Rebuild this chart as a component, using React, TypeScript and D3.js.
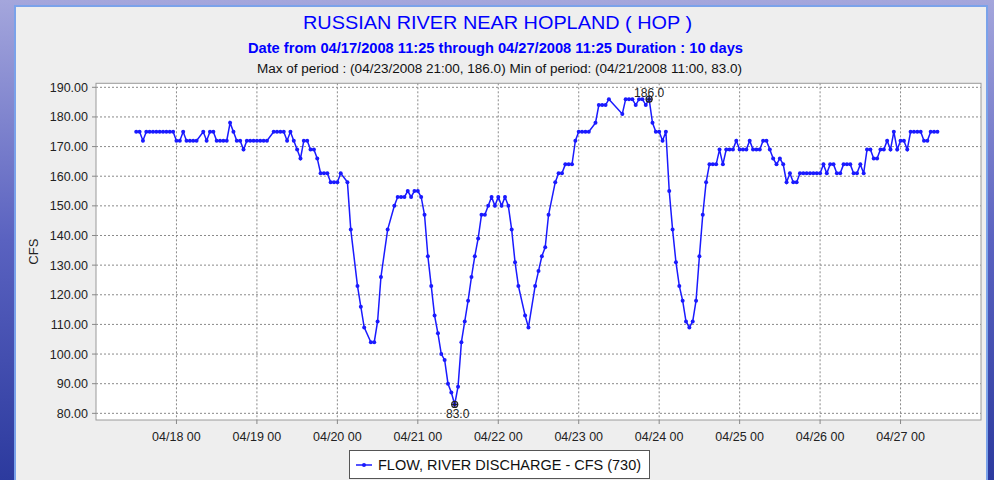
import React from 'react';
import * as d3 from 'd3';

// hourly flow readings (CFS) from 04/17/2008 12:00, null = no reading that hour
const flowCfs: (number | null)[] = [
  175, 175, 172, 175, 175, 175, 175, 175, 175, 175, 175, 175, // 04/17 12-23
  172, 172, 175, 172, 172, 172, 172, null, 175, 172, 175, 175, // 04/18 00-11
  172, 172, 172, 172, 178, 175, 172, 172, 169, 172, 172, 172, // 04/18 12-23
  172, 172, 172, 172, null, 175, 175, 175, 175, 172, 175, 172, // 04/19 00-11
  169, 166, 172, 172, 169, 169, 166, 161, 161, 161, 158, 158, // 04/19 12-23
  158, 161, null, 158, 142, null, 123, 116, 109, null, 104, 104, // 04/20 00-11
  111, 126, null, 142, null, 150, 153, 153, 153, 155, 153, 155, // 04/20 12-23
  155, 153, 147, 133, 123, 113, 107, 100, 98, 90, 87, 83, // 04/21 00-11
  89, 104, 111, 118, 126, 133, 139, 147, 147, 150, 153, 150, // 04/21 12-23
  153, 150, 153, 150, 142, 131, 123, null, 113, 109, null, 123, // 04/22 00-11
  128, 133, 136, 147, null, 158, 161, 161, 164, 164, 164, 172, // 04/22 12-23
  175, 175, 175, 175, null, 178, 184, 184, 184, 186, null, null, // 04/23 00-11
  null, 181, 186, 186, 186, 184, 186, 186, 184, 186, 178, 175, // 04/23 12-23
  175, 172, 175, 155, 142, 131, 123, 118, 111, 109, 111, 118, // 04/24 00-11
  133, 147, 158, 164, 164, 164, 169, 164, 169, 169, 169, 172, // 04/24 12-23
  169, 169, 169, 172, 169, 169, 169, 172, 172, 169, 166, 164, // 04/25 00-11
  166, 164, 158, 161, 158, 158, 161, 161, 161, 161, 161, 161, // 04/25 12-23
  161, 164, 161, 164, 164, 161, 161, 164, 164, 164, 161, 161, // 04/26 00-11
  164, 161, 169, 169, 166, 166, 169, 169, 172, 169, 175, 169, // 04/26 12-23
  172, 172, 169, 175, 175, 175, 175, 172, 172, 175, 175, 175, // 04/27 00-11
];

const yTickValues = [80, 90, 100, 110, 120, 130, 140, 150, 160, 170, 180, 190];
const xTickLabels = ['04/18 00', '04/19 00', '04/20 00', '04/21 00', '04/22 00',
  '04/23 00', '04/24 00', '04/25 00', '04/26 00', '04/27 00'];

const title = 'RUSSIAN RIVER NEAR HOPLAND ( HOP )';
const subtitle = 'Date from 04/17/2008 11:25 through 04/27/2008 11:25 Duration : 10 days';
const extremes = 'Max of period : (04/23/2008 21:00, 186.0)  Min of period: (04/21/2008 11:00,  83.0)';
const legendLabel = 'FLOW, RIVER DISCHARGE - CFS (730)';

const W = 994;
const H = 480;
const plot = { left: 96, right: 981, top: 83.3, bottom: 420 };
const narrow = "'Liberation Sans Narrow', 'Liberation Sans', Arial, sans-serif";
const sans = "'Liberation Sans', Arial, sans-serif";

type Pt = { t: Date; v: number };

export default function App() {
  const start = Date.UTC(2008, 3, 17, 12);
  const points: Pt[] = flowCfs
    .map((v, i) => ({ t: new Date(start + i * 3600e3), v }))
    .filter((d): d is Pt => d.v != null);

  const x = d3.scaleUtc()
    .domain([new Date(Date.UTC(2008, 3, 17)), new Date(Date.UTC(2008, 3, 28))])
    .range([plot.left, plot.right]);
  const y = d3.scaleLinear().domain([77.75, 191.35]).range([plot.bottom, plot.top]);

  const xTicks = xTickLabels.map((_, i) => new Date(Date.UTC(2008, 3, 18 + i)));
  const line = d3.line<Pt>().x(d => x(d.t)).y(d => y(d.v));

  // the report flags the last hour the peak was reached
  const maxV = d3.max(points, d => d.v)!;
  const maxPt = points.filter(d => d.v === maxV).pop()!;
  const minPt = points[d3.minIndex(points, d => d.v)];

  const marker = (p: Pt) => {
    const cx = x(p.t), cy = y(p.v);
    return (
      <g>
        <circle cx={cx} cy={cy} r={3} fill="none" stroke="#222" strokeWidth={1.2} />
        <line x1={cx - 3.5} x2={cx + 3.5} y1={cy} y2={cy} stroke="#222" />
        <line x1={cx} x2={cx} y1={cy - 3.5} y2={cy + 3.5} stroke="#222" />
      </g>
    );
  };

  return (
    <svg width={W} height={H} style={{ position: 'absolute', left: 0, top: 0 }}>
      <defs>
        <linearGradient id="bg" x1="0" y1="0" x2="0" y2="1">
          <stop offset="0" stopColor="#a4a6dc" />
          <stop offset="0.5" stopColor="#5a62c0" />
          <stop offset="1" stopColor="#2c3a9e" />
        </linearGradient>
      </defs>
      <rect x={0} y={0} width={W} height={H} fill="url(#bg)" />
      <rect x={15} y={6} width={972} height={480} fill="#eeeeee" stroke="#7aa2ea" strokeWidth={2} />

      {/* titles */}
      <text x={497.5} y={29} textAnchor="middle" fontFamily={narrow} fontSize={19}
        fill="#0000ff" textLength={389} lengthAdjust="spacingAndGlyphs">{title}</text>
      <text x={495.5} y={53} textAnchor="middle" fontFamily={narrow} fontSize={14} fontWeight="bold"
        fill="#0000ff" textLength={495} lengthAdjust="spacingAndGlyphs">{subtitle}</text>
      <text x={499.5} y={73} textAnchor="middle" fontFamily={narrow} fontSize={12.5}
        fill="#111" textLength={485} lengthAdjust="spacingAndGlyphs">{extremes}</text>

      {/* plot area */}
      <rect x={plot.left} y={plot.top} width={plot.right - plot.left} height={plot.bottom - plot.top} fill="#ffffff" />
      {yTickValues.map(v => (
        <line key={'gy' + v} x1={plot.left} x2={plot.right} y1={y(v)} y2={y(v)}
          stroke="#8a8a8a" strokeDasharray="2,2" />
      ))}
      {xTicks.map((d, i) => (
        <line key={'gx' + i} x1={x(d)} x2={x(d)} y1={plot.top} y2={plot.bottom}
          stroke="#8a8a8a" strokeDasharray="2,2" />
      ))}
      <rect x={plot.left} y={plot.top} width={plot.right - plot.left} height={plot.bottom - plot.top}
        fill="none" stroke="#9a9a9a" />

      {/* y axis */}
      {yTickValues.map(v => (
        <g key={'ty' + v}>
          <line x1={plot.left - 4} x2={plot.left} y1={y(v)} y2={y(v)} stroke="#888" />
          <text x={plot.left - 8} y={y(v) + 4.5} textAnchor="end" fontFamily={sans} fontSize={12.5} fill="#222">
            {d3.format('.2f')(v)}
          </text>
        </g>
      ))}
      <text transform={`translate(38,${(plot.top + plot.bottom) / 2}) rotate(-90)`} textAnchor="middle"
        fontFamily={sans} fontSize={13} fill="#222">CFS</text>

      {/* x axis */}
      {xTicks.map((d, i) => (
        <g key={'tx' + i}>
          <line x1={x(d)} x2={x(d)} y1={plot.bottom} y2={plot.bottom + 4} stroke="#888" />
          <text x={x(d)} y={plot.bottom + 21} textAnchor="middle" fontFamily={sans} fontSize={12.5} fill="#222">
            {xTickLabels[i]}
          </text>
        </g>
      ))}

      {/* series */}
      <path d={line(points) ?? ''} fill="none" stroke="#1a1aff" strokeWidth={1.5} />
      {points.map((d, i) => (
        <circle key={i} cx={x(d.t)} cy={y(d.v)} r={2} fill="#1a1aff" />
      ))}

      {marker(maxPt)}
      <text x={x(maxPt.t)} y={y(maxPt.v) - 2.5} textAnchor="middle" fontFamily={sans} fontSize={12} fill="#222">
        {d3.format('.1f')(maxPt.v)}
      </text>
      {marker(minPt)}
      <text x={x(minPt.t) + 3} y={y(minPt.v) + 14} textAnchor="middle" fontFamily={sans} fontSize={12} fill="#222">
        {d3.format('.1f')(minPt.v)}
      </text>

      {/* legend */}
      <rect x={349.5} y={450.5} width={300} height={28} fill="#ffffff" stroke="#555" />
      <line x1={356} x2={372} y1={465} y2={465} stroke="#1a1aff" strokeWidth={1.5} />
      <circle cx={364} cy={465} r={2} fill="#1a1aff" />
      <text x={378} y={470} fontFamily={sans} fontSize={14} fill="#111"
        textLength={263} lengthAdjust="spacingAndGlyphs">{legendLabel}</text>
    </svg>
  );
}
